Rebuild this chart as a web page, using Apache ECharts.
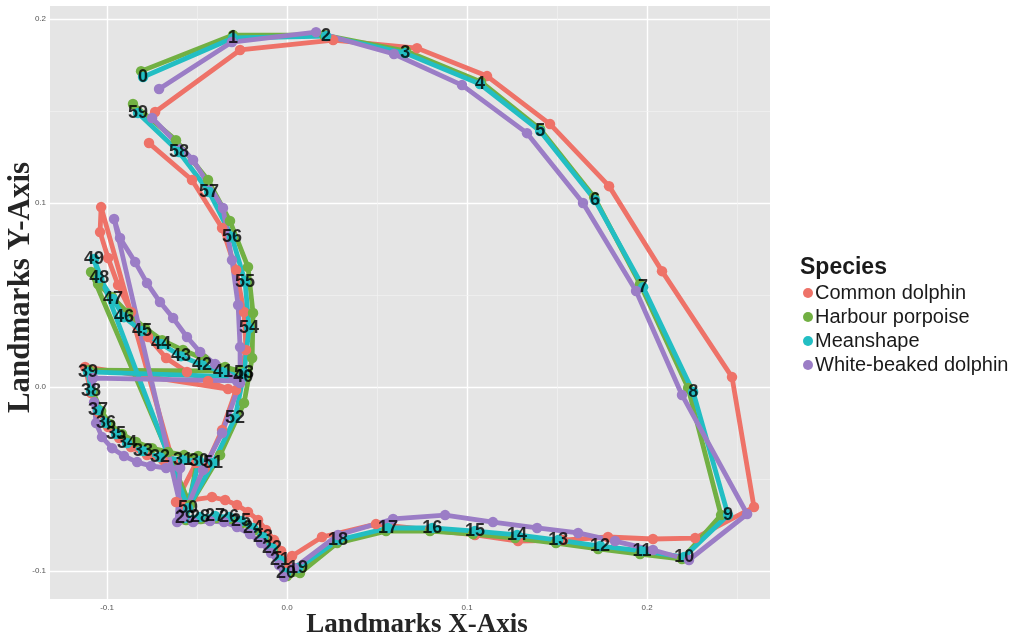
<!DOCTYPE html>
<html>
<head>
<meta charset="utf-8">
<script src="https://cdn.jsdelivr.net/npm/echarts@6/dist/echarts.min.js"></script>
<style>
  html, body { margin: 0; padding: 0; background: #fff; }
  #chart { width: 1021px; height: 640px; }
</style>
</head>
<body>
<div id="chart"></div>
<script>
// landmark coordinates, 0..59
const species = ['Common dolphin', 'Harbour porpoise', 'Meanshape', 'White-beaked dolphin'];
const colors = ['#EE7268', '#72B043', '#22BEC3', '#9B7DC6'];

const commonX = [-0.0733,-0.0261,0.0256,0.0722,0.1111,0.1461,0.1789,0.2083,0.2472,0.2594,
  0.2267,0.2033,0.1783,0.1533,0.1283,0.1044,0.0794,0.0494,0.0194,0.0028,
  0.0000,-0.0033,-0.0072,-0.0117,-0.0161,-0.0217,-0.0278,-0.0344,-0.0417,-0.0617,
  -0.0506,-0.0589,-0.0689,-0.0778,-0.0867,-0.0933,-0.0994,-0.1044,-0.1089,-0.1122,
  -0.0328,-0.0439,-0.0556,-0.0672,-0.0772,-0.0867,-0.0939,-0.0994,-0.1039,-0.1033,
  -0.0567,-0.0456,-0.0361,-0.0283,-0.0228,-0.0239,-0.0283,-0.0361,-0.0528,-0.0767];
const commonY = [0.1495,0.1832,0.1886,0.1842,0.1690,0.1429,0.1092,0.0630,0.0054,-0.0652,
  -0.0821,-0.0826,-0.0815,-0.0832,-0.0837,-0.0804,-0.0777,-0.0745,-0.0815,-0.0918,
  -0.0957,-0.0891,-0.0832,-0.0777,-0.0723,-0.0679,-0.0641,-0.0614,-0.0598,-0.0625,
  -0.0413,-0.0408,-0.0397,-0.0370,-0.0326,-0.0277,-0.0217,-0.0141,-0.0033,0.0109,
  -0.0011,0.0033,0.0082,0.0158,0.0272,0.0408,0.0554,0.0701,0.0842,0.0978,
  -0.0641,-0.0440,-0.0234,-0.0016,0.0201,0.0408,0.0636,0.0864,0.1125,0.1326];

const harbourX = [-0.0811,-0.0300,0.0206,0.0661,0.1078,0.1406,0.1706,0.1961,0.2228,0.2411,
  0.2194,0.1961,0.1728,0.1494,0.1267,0.1033,0.0794,0.0550,0.0278,0.0072,
  0.0000,-0.0033,-0.0078,-0.0128,-0.0183,-0.0250,-0.0317,-0.0394,-0.0478,-0.0561,
  -0.0494,-0.0572,-0.0661,-0.0750,-0.0839,-0.0917,-0.0983,-0.1033,-0.1078,-0.1100,
  -0.0261,-0.0344,-0.0461,-0.0578,-0.0694,-0.0789,-0.0883,-0.0972,-0.1050,-0.1089,
  -0.0539,-0.0372,-0.0239,-0.0194,-0.0189,-0.0217,-0.0317,-0.0439,-0.0617,-0.0856];
const harbourY = [0.1717,0.1913,0.1913,0.1826,0.1658,0.1402,0.1033,0.0560,-0.0005,-0.0696,
  -0.0935,-0.0908,-0.0880,-0.0848,-0.0821,-0.0799,-0.0783,-0.0783,-0.0848,-0.1011,
  -0.1027,-0.0951,-0.0886,-0.0826,-0.0777,-0.0739,-0.0717,-0.0712,-0.0717,-0.0723,
  -0.0375,-0.0370,-0.0353,-0.0332,-0.0299,-0.0255,-0.0201,-0.0130,-0.0027,0.0092,
  0.0087,0.0109,0.0152,0.0201,0.0255,0.0321,0.0402,0.0489,0.0560,0.0625,
  -0.0641,-0.0370,-0.0087,0.0158,0.0402,0.0652,0.0902,0.1125,0.1342,0.1538];

const meanX = [-0.0800,-0.0300,0.0217,0.0656,0.1072,0.1406,0.1711,0.1978,0.2256,0.2450,
  0.2206,0.1972,0.1739,0.1506,0.1278,0.1044,0.0806,0.0561,0.0283,0.0061,
  -0.0006,-0.0039,-0.0083,-0.0133,-0.0189,-0.0256,-0.0322,-0.0400,-0.0483,-0.0567,
  -0.0489,-0.0578,-0.0706,-0.0800,-0.0889,-0.0950,-0.1006,-0.1050,-0.1089,-0.1106,
  -0.0244,-0.0356,-0.0472,-0.0589,-0.0700,-0.0806,-0.0906,-0.0967,-0.1044,-0.1072,
  -0.0550,-0.0411,-0.0289,-0.0239,-0.0211,-0.0233,-0.0306,-0.0433,-0.0600,-0.0828];
const meanY = [0.1685,0.1897,0.1908,0.1815,0.1647,0.1391,0.1016,0.0543,-0.0027,-0.0696,
  -0.0924,-0.0891,-0.0864,-0.0832,-0.0804,-0.0783,-0.0766,-0.0766,-0.0832,-0.0984,
  -0.1011,-0.0940,-0.0875,-0.0815,-0.0766,-0.0728,-0.0707,-0.0701,-0.0707,-0.0712,
  -0.0402,-0.0397,-0.0380,-0.0348,-0.0304,-0.0255,-0.0196,-0.0125,-0.0022,0.0082,
  0.0054,0.0082,0.0120,0.0168,0.0234,0.0304,0.0380,0.0478,0.0592,0.0696,
  -0.0658,-0.0413,-0.0168,0.0076,0.0321,0.0571,0.0815,0.1060,0.1277,0.1489];

const whiteX = [-0.0711,-0.0306,0.0161,0.0594,0.0972,0.1333,0.1644,0.1939,0.2194,0.2556,
  0.2233,0.2033,0.1822,0.1617,0.1389,0.1144,0.0878,0.0589,0.0283,0.0039,
  -0.0017,-0.0044,-0.0089,-0.0144,-0.0206,-0.0278,-0.0350,-0.0428,-0.0522,-0.0611,
  -0.0594,-0.0672,-0.0756,-0.0833,-0.0906,-0.0972,-0.1028,-0.1061,-0.1072,-0.1078,
  -0.0278,-0.0400,-0.0483,-0.0556,-0.0633,-0.0706,-0.0778,-0.0844,-0.0928,-0.0961,
  -0.0578,-0.0467,-0.0361,-0.0261,-0.0261,-0.0272,-0.0306,-0.0356,-0.0522,-0.0750];
const whiteY = [0.1620,0.1875,0.1929,0.1810,0.1641,0.1380,0.1000,0.0522,-0.0043,-0.0690,
  -0.0940,-0.0886,-0.0837,-0.0793,-0.0766,-0.0734,-0.0696,-0.0717,-0.0804,-0.0984,
  -0.1033,-0.0967,-0.0902,-0.0848,-0.0799,-0.0761,-0.0734,-0.0728,-0.0734,-0.0734,
  -0.0440,-0.0440,-0.0429,-0.0408,-0.0375,-0.0332,-0.0272,-0.0196,-0.0082,0.0049,
  0.0033,0.0125,0.0190,0.0272,0.0375,0.0462,0.0565,0.0679,0.0810,0.0913,
  -0.0707,-0.0451,-0.0250,0.0022,0.0217,0.0446,0.0690,0.0973,0.1234,0.1462];

const tickValues = [-0.1, 0, 0.1, 0.2];
const minorX = [-0.05, 0.05, 0.15, 0.25];
const minorY = [-0.05, 0.05, 0.15];

const allX = [commonX, harbourX, meanX, whiteX];
const allY = [commonY, harbourY, meanY, whiteY];

const zip = (xs, ys) => xs.map((x, i) => [x, ys[i]]);

const chart = echarts.init(document.getElementById('chart'));

const major = { color: '#ffffff', width: 1.4, type: 'solid' };
const minor = { color: '#F2F2F2', width: 0.7, type: 'solid' };
const gridLines = [];
tickValues.forEach(v => {
  gridLines.push({ xAxis: v, lineStyle: major });
  gridLines.push({ yAxis: v, lineStyle: major });
});
minorX.forEach(v => gridLines.push({ xAxis: v, lineStyle: minor }));
minorY.forEach(v => gridLines.push({ yAxis: v, lineStyle: minor }));

const series = [{
  name: 'grid',
  type: 'line',
  data: [],
  z: 1,
  silent: true,
  markLine: {
    z: 1,
    silent: true,
    symbol: 'none',
    label: { show: false },
    emphasis: { disabled: true },
    animation: false,
    data: gridLines
  }
}];

// paths first, then points, like the original
species.forEach((name, i) => {
  series.push({
    name: name,
    type: 'line',
    data: zip(allX[i], allY[i]),
    showSymbol: false,
    z: 2,
    lineStyle: { color: colors[i], width: 4.8 },
    itemStyle: { color: colors[i] }
  });
});
species.forEach((name, i) => {
  series.push({
    name: name,
    type: 'scatter',
    data: zip(allX[i], allY[i]),
    symbolSize: 10.5,
    z: 3,
    itemStyle: { color: colors[i], opacity: 1 }
  });
});
series.push({
  name: 'labels',
  type: 'scatter',
  data: zip(meanX, meanY),
  symbolSize: 2,
  z: 4,
  itemStyle: { color: 'rgba(0,0,0,0)' },
  label: {
    show: true,
    position: 'inside',
    formatter: p => String(p.dataIndex),
    color: '#000',
    fontFamily: 'Liberation Sans',
    fontWeight: 'bold',
    fontSize: 18
  }
});

const axisText = { color: '#555', fontSize: 8, fontFamily: 'Liberation Sans' };
const axisTitle = { color: '#262626', fontSize: 27, fontWeight: 'bold', fontFamily: 'Liberation Serif' };

chart.setOption({
  animation: false,
  backgroundColor: '#fff',
  title: {
    text: 'Species',
    left: 795,
    top: 251,
    textStyle: { color: '#1a1a1a', fontSize: 23, fontWeight: 'bold', fontFamily: 'Liberation Sans' }
  },
  legend: {
    data: species,
    orient: 'vertical',
    left: 798,
    top: 278,
    icon: 'circle',
    itemWidth: 10,
    itemHeight: 10,
    itemGap: 4,
    textStyle: { color: '#1a1a1a', fontSize: 20, fontFamily: 'Liberation Sans', padding: [0, 0, 0, -3] }
  },
  grid: {
    left: 50, right: 251, top: 6, bottom: 41,
    containLabel: false,
    outerBoundsMode: 'none',
    show: true, backgroundColor: '#E5E5E5', borderWidth: 0
  },
  xAxis: {
    type: 'value',
    min: -0.1317,
    max: 0.2683,
    name: 'Landmarks X-Axis',
    nameLocation: 'middle',
    nameGap: 13,
    nameMoveOverlap: false,
    nameTextStyle: { ...axisTitle, padding: [0, 0, 0, 14] },
    axisLine: { show: false },
    splitLine: { show: false },
    axisTick: { show: true, length: 3, customValues: tickValues, lineStyle: { color: '#555', width: 0.8 } },
    axisLabel: { customValues: tickValues, formatter: v => v.toFixed(1), margin: 5, ...axisText }
  },
  yAxis: {
    type: 'value',
    min: -0.1152,
    max: 0.2071,
    name: 'Landmarks Y-Axis',
    nameLocation: 'middle',
    nameGap: 14,
    nameMoveOverlap: false,
    nameTextStyle: { ...axisTitle, fontSize: 31, padding: [0, 0, 0, 30] },
    axisLine: { show: false },
    splitLine: { show: false },
    axisTick: { show: true, length: 3, customValues: tickValues, lineStyle: { color: '#555', width: 0.8 } },
    axisLabel: { customValues: tickValues, formatter: v => v.toFixed(1), margin: 4, ...axisText }
  },
  series: series
});
</script>
</body>
</html>
